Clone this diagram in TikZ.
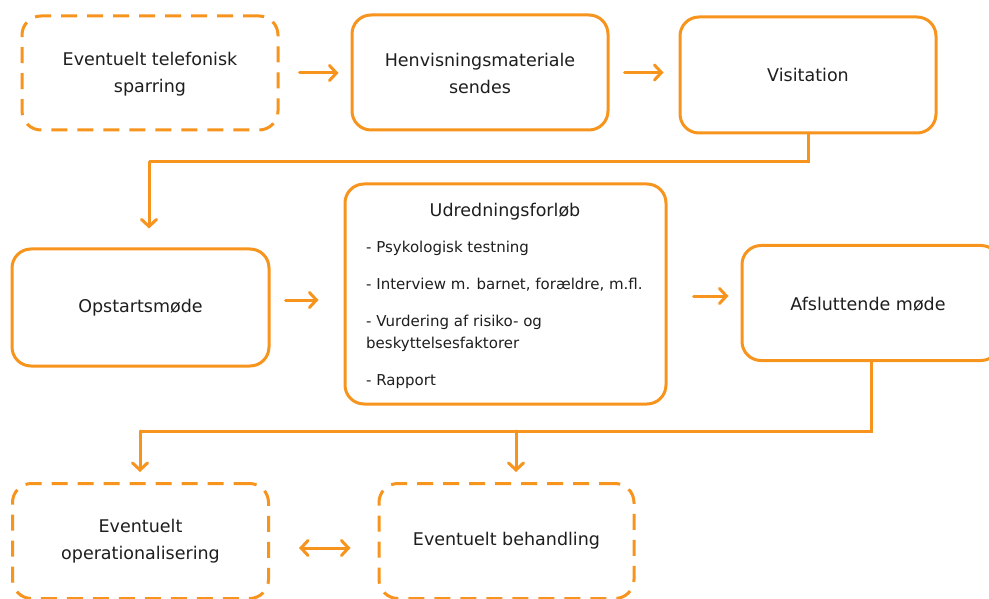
\documentclass[tikz,border=0pt]{standalone}
\usepackage{fontspec}
\setmainfont{DejaVu Sans}
\usetikzlibrary{arrows.meta,calc}
\definecolor{org}{RGB}{247,148,29}
\definecolor{txt}{RGB}{30,30,30}
\tikzset{
  box/.style={draw=org, line width=3pt, rounded corners=19pt, fill=white, inner sep=0pt},
  dbox/.style={box, dash pattern=on 16pt off 10pt},
  lbl/.style={text=txt, font=\fontsize{17.5}{27}\selectfont, align=center},
  item/.style={text=txt, font=\fontsize{15}{22}\selectfont, align=left, anchor=west, inner sep=0pt},
  conn/.style={draw=org, line width=3pt},
  arr/.style={conn, line cap=round, -{Straight Barb[length=7pt,width=15pt,line cap=round]}},
  darr/.style={conn, line cap=round, {Straight Barb[length=7pt,width=15pt,line cap=round]}-{Straight Barb[length=7pt,width=15pt,line cap=round]}}
}
\begin{document}
\begin{tikzpicture}[x=1pt,y=-1pt]
\useasboundingbox (0,0) rectangle (989,599);
% top row
\node[dbox, minimum width=256pt, minimum height=114pt] (tel) at (150,73) {};
\node[lbl] (tellbl) at ($(tel.center)+(0,1)$) {Eventuelt telefonisk\\sparring};
\node[box, minimum width=256pt, minimum height=115pt] (hen) at (480,72.5) {};
\node[lbl] (henlbl) at ($(hen.center)+(0,1)$) {Henvisningsmateriale\\sendes};
\node[box, minimum width=256pt, minimum height=116pt] (vis) at (808,75) {};
\node[lbl] (vislbl) at (vis.center) {Visitation};
% middle row
\node[box, minimum width=257pt, minimum height=117pt] (opst) at (140.5,307.5) {};
\node[lbl] (opstlbl) at (opst.center) {Opstartsmøde};
\node[box, minimum width=321pt, minimum height=220pt] (udr) at (505.5,294) {};
\node[lbl] (udrlbl) at (505,212) {Udredningsforløb};
\node[item] (i1) at (366,248) {- Psykologisk testning};
\node[item] (i2) at (366,284.5) {- Interview m. barnet, forældre, m.fl.};
\node[item] (i3) at (366,322) {- Vurdering af risiko- og};
\node[item] (i3b) at (366,344) {beskyttelsesfaktorer};
\node[item] (i4) at (366,381.5) {- Rapport};
\node[box, minimum width=258pt, minimum height=115pt] (afs) at (871,303) {};
\node[lbl] (afslbl) at (868,304) {Afsluttende møde};
% bottom row
\node[dbox, minimum width=256pt, minimum height=115pt] (op) at (140.5,541) {};
\node[lbl] (oplbl) at (op.center) {Eventuelt\\operationalisering};
\node[dbox, minimum width=255pt, minimum height=115pt] (beh) at (506.5,541) {};
\node[lbl] (behlbl) at (beh.center) {Eventuelt behandling};
% connectors
\draw[arr] ($(tel.east)+(20,0)$) -- ($(hen.west)+(-12,0.5)$);
\draw[arr] ($(hen.east)+(15,0)$) -- ($(vis.west)+(-15,-2.5)$);
\coordinate (v1) at (808,162);
\coordinate (v2) at (149,162);
\draw[conn] (vis.south) -- (v1) -- (v2);
\draw[arr] (v2) -- ($(opst.north -| v2)+(0,-19)$);
\draw[arr] ($(opst.east)+(15,-7.5)$) -- ($(udr.west)+(-25,6)$);
\draw[arr] ($(udr.east)+(26,2)$) -- ($(afs.west)+(-12,-7)$);
\coordinate (j1) at (140,431);
\coordinate (j2) at (516,431);
\draw[conn] (afs.south) |- (j1);
\draw[arr] (j1) -- ($(op.north -| j1)+(0,-10)$);
\draw[arr] (j2) -- ($(beh.north -| j2)+(0,-10)$);
\draw[darr] ($(op.east)+(29,7)$) -- ($(beh.west)+(-27,7)$);
\end{tikzpicture}
\end{document}
